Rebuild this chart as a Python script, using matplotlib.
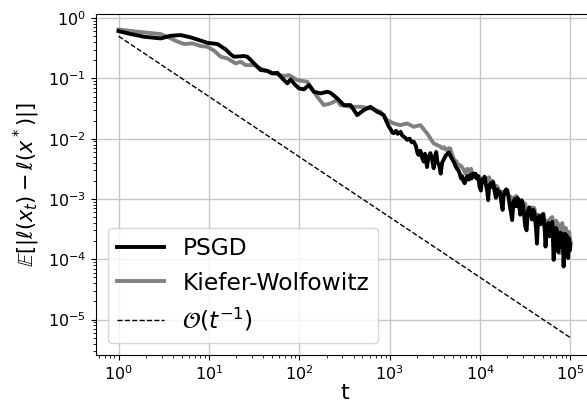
import numpy as np
import matplotlib
matplotlib.use('Agg')
import matplotlib.pyplot as plt

# values, stored as log10(t) and log10(loss)
psgd_logt = [0.0, 0.136, 0.283, 0.467, 0.578, 0.688, 0.799, 0.891, 0.983, 1.094,
             1.186, 1.24, 1.278, 1.388, 1.425, 1.5, 1.572, 1.646, 1.70, 1.757,
             1.812, 1.867, 1.904, 1.94, 1.996, 2.05, 2.106, 2.161, 2.235, 2.309,
             2.346, 2.42, 2.493, 2.567, 2.641, 2.714, 2.788, 2.862, 2.90, 2.935,
             2.96, 2.99, 3.01, 3.03, 3.045, 3.07, 3.09, 3.119, 3.14, 3.17,
             3.193, 3.22, 3.245, 3.266, 3.29, 3.31, 3.322, 3.34, 3.36, 3.377,
             3.39, 3.414, 3.43, 3.451, 3.47, 3.487, 3.50, 3.515, 3.53, 3.55,
             3.565, 3.58, 3.60, 3.62, 3.64, 3.655, 3.67, 3.685, 3.70, 3.715,
             3.73, 3.745, 3.76, 3.775, 3.79, 3.80, 3.815, 3.83, 3.845, 3.86,
             3.875, 3.89, 3.905, 3.92, 3.935, 3.95, 3.965, 3.98, 3.995, 4.01,
             4.02, 4.035, 4.05, 4.065, 4.08, 4.09, 4.10, 4.115, 4.13, 4.145,
             4.16, 4.175, 4.19, 4.205, 4.22, 4.235, 4.25, 4.26, 4.275, 4.29,
             4.30, 4.315, 4.33, 4.345, 4.355, 4.37, 4.385, 4.40, 4.415, 4.43,
             4.445, 4.46, 4.475, 4.49, 4.50, 4.515, 4.53, 4.545, 4.56, 4.575,
             4.59, 4.605, 4.62, 4.63, 4.64, 4.655, 4.67, 4.685, 4.70, 4.715,
             4.725, 4.74, 4.755, 4.77, 4.785, 4.80, 4.815, 4.825, 4.84, 4.85,
             4.865, 4.875, 4.89, 4.90, 4.915, 4.925, 4.935, 4.945, 4.955, 4.965,
             4.975, 4.985, 4.995, 5.0]
psgd_logv = [-0.216, -0.265, -0.31, -0.337, -0.293, -0.282, -0.32, -0.365, -0.41, -0.43,
             -0.52, -0.60, -0.641, -0.63, -0.641, -0.752, -0.862, -0.874, -0.918, -0.907,
             -1.0, -1.083, -1.017, -1.083, -1.166, -1.183, -1.111, -1.222, -1.249, -1.222,
             -1.24, -1.332, -1.443, -1.443, -1.609, -1.526, -1.471, -1.554, -1.58, -1.61,
             -1.70, -1.80, -1.84, -1.90, -1.91, -1.87, -1.92, -1.885, -1.95, -1.98,
             -2.02, -2.00, -2.06, -2.05, -2.12, -2.25, -2.27, -2.20, -2.32, -2.38,
             -2.25, -2.47, -2.30, -2.24, -2.35, -2.49, -2.30, -2.22, -2.40, -2.45,
             -2.58, -2.40, -2.34, -2.28, -2.25, -2.23, -2.28, -2.32, -2.36, -2.40,
             -2.46, -2.50, -2.52, -2.58, -2.66, -2.62, -2.70, -2.74, -2.66, -2.62,
             -2.68, -2.60, -2.66, -2.58, -2.63, -2.58, -2.66, -2.62, -2.80, -2.86,
             -2.68, -2.72, -2.63, -2.75, -2.88, -3.02, -2.80, -2.74, -2.80, -2.72,
             -2.86, -2.98, -2.84, -2.92, -2.88, -3.05, -3.18, -2.96, -2.88, -2.84,
             -2.86, -2.96, -3.12, -3.25, -3.35, -3.05, -3.00, -3.12, -2.98, -3.08,
             -3.26, -3.02, -3.10, -3.30, -3.45, -3.52, -3.20, -3.14, -3.22, -3.34,
             -3.18, -3.26, -3.50, -3.74, -3.40, -3.28, -3.42, -3.30, -3.25, -3.50,
             -3.79, -3.46, -3.40, -3.62, -3.44, -3.38, -4.01, -3.60, -3.48, -3.52,
             -3.88, -3.62, -3.56, -3.80, -3.58, -4.12, -3.70, -3.58, -3.90, -3.62,
             -3.98, -3.66, -3.85, -3.75]

kw_logt = [0.0, 0.21, 0.467, 0.578, 0.652, 0.725, 0.817, 0.91, 0.983, 1.057,
           1.13, 1.204, 1.296, 1.351, 1.407, 1.5, 1.609, 1.72, 1.83, 1.885,
           1.978, 2.088, 2.125, 2.199, 2.272, 2.346, 2.42, 2.456, 2.567, 2.677,
           2.788, 2.898, 2.972, 3.045, 3.119, 3.193, 3.266, 3.34, 3.414, 3.487,
           3.56, 3.58, 3.60, 3.62, 3.635, 3.65, 3.67, 3.685, 3.70, 3.72,
           3.74, 3.76, 3.78, 3.80, 3.82, 3.84, 3.86, 3.88, 3.90, 3.92,
           3.94, 3.96, 3.98, 4.00, 4.02, 4.04, 4.06, 4.08, 4.10, 4.12,
           4.14, 4.16, 4.18, 4.20, 4.22, 4.24, 4.26, 4.28, 4.30, 4.32,
           4.34, 4.36, 4.38, 4.40, 4.42, 4.44, 4.46, 4.48, 4.50, 4.52,
           4.54, 4.56, 4.58, 4.60, 4.62, 4.64, 4.66, 4.68, 4.70, 4.72,
           4.74, 4.76, 4.78, 4.80, 4.82, 4.84, 4.86, 4.88, 4.895, 4.91,
           4.93, 4.95, 4.97, 4.985, 5.0]
kw_logv = [-0.19, -0.227, -0.265, -0.337, -0.39, -0.43, -0.42, -0.464, -0.475, -0.54,
           -0.641, -0.669, -0.752, -0.724, -0.78, -0.78, -0.862, -0.918, -0.962, -0.945,
           -1.028, -1.056, -1.139, -1.305, -1.443, -1.415, -1.36, -1.443, -1.471, -1.471,
           -1.498, -1.554, -1.692, -1.747, -1.775, -1.747, -1.803, -1.775, -1.912, -2.078,
           -2.13, -2.16, -2.14, -2.18, -2.19, -2.16, -2.16, -2.24, -2.30, -2.36,
           -2.38, -2.46, -2.44, -2.47, -2.52, -2.58, -2.50, -2.54, -2.50, -2.60,
           -2.58, -2.66, -2.62, -2.64, -2.75, -2.68, -2.72, -2.66, -2.64, -2.76,
           -2.70, -2.82, -2.78, -2.82, -2.95, -2.88, -2.92, -2.86, -2.85, -3.00,
           -2.96, -3.05, -2.98, -2.95, -3.10, -3.04, -3.12, -3.06, -3.08, -3.25,
           -3.16, -3.22, -3.14, -3.15, -3.30, -3.26, -3.34, -3.26, -3.25, -3.42,
           -3.36, -3.40, -3.32, -3.30, -3.45, -3.36, -3.40, -3.90, -3.45, -3.40,
           -3.55, -3.48, -3.62, -3.55, -3.70]

rate_t = [1, 1e5]
rate_v = [0.5, 5e-6]

fig = plt.figure(figsize=(5.87, 4.03), dpi=100)
ax = fig.add_axes([0.1635, 0.1203, 0.8467, 0.8447])

ax.plot(10 ** np.array(kw_logt), 10 ** np.array(kw_logv), color='gray', lw=2.8,
        label='Kiefer-Wolfowitz', zorder=2)
ax.plot(10 ** np.array(psgd_logt), 10 ** np.array(psgd_logv), color='black', lw=2.8,
        label='PSGD', zorder=3)
ax.plot(rate_t, rate_v, 'k--', lw=1.0, label=r'$\mathcal{O}(t^{-1})$', zorder=3)

ax.set_xscale('log')
ax.set_yscale('log')
ax.set_xlim(10 ** -0.25, 10 ** 5.25)
ax.set_ylim(10 ** -5.58, 10 ** 0.066)
ax.grid(True, which='major', color='#c8c8c8', lw=1.0)
ax.set_axisbelow(True)

ax.tick_params(labelsize=11.5)
ax.set_xlabel('t', fontsize=16, labelpad=0)
ax.set_ylabel(r'$\mathbb{E}[|\ell(x_t) - \ell(x^*)|]$', fontsize=15)

handles, labels = ax.get_legend_handles_labels()
order = [1, 0, 2]
ax.legend([handles[i] for i in order], [labels[i] for i in order],
          loc='lower left', fontsize=16.8)

fig.savefig('out.png', dpi=100)
